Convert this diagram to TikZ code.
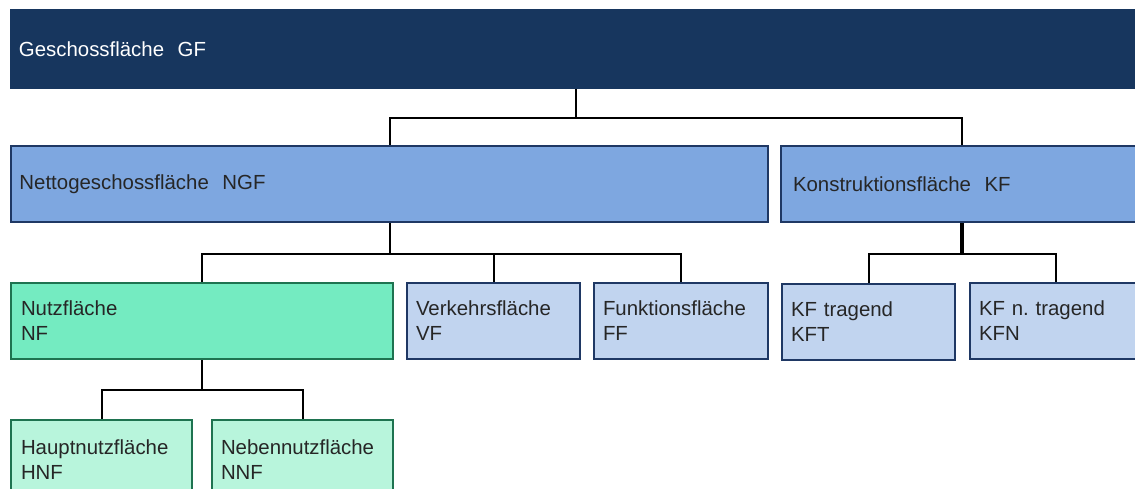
\documentclass[tikz,border=0pt]{standalone}
\usepackage{fontspec}
\setmainfont{Liberation Sans}
\frenchspacing
\definecolor{gfnavy}{RGB}{23,54,94}
\definecolor{navyline}{RGB}{31,56,100}
\definecolor{midblue}{RGB}{126,167,224}
\definecolor{paleblue}{RGB}{193,212,239}
\definecolor{mint}{RGB}{116,235,193}
\definecolor{palemint}{RGB}{184,245,220}
\definecolor{greenline}{RGB}{30,115,80}
\begin{document}
\begin{tikzpicture}[x=1pt,y=-1pt,
  box/.style={rectangle, anchor=north west, align=left, inner ysep=0pt,
    font=\fontsize{20.4}{25}\selectfont, line width=2pt, text=black!85},
  gfbox/.style={box, fill=gfnavy, draw=gfnavy, text=white},
  ngfbox/.style={box, fill=midblue, draw=navyline},
  subbox/.style={box, fill=paleblue, draw=navyline},
  nfbox/.style={box, fill=mint, draw=greenline},
  nfsub/.style={box, fill=palemint, draw=greenline},
  link/.style={draw=black, line width=2pt},
  thicklink/.style={draw=black, line width=4pt}]
\useasboundingbox (0,0) rectangle (1135,489);

% top level
\node[gfbox, minimum width=1130pt, minimum height=78pt, inner xsep=8pt, text width=1114pt] (gf) at (10,9) {Geschossfläche~~GF};

% second level
\node[ngfbox, minimum width=757pt, minimum height=76pt, inner xsep=8.5pt, text width=740pt] (ngf) at (10,145) {Nettogeschossfläche~~NGF};
\node[ngfbox, minimum width=362pt, minimum height=76pt, inner xsep=12pt, text width=338pt] (kf) at (780,145) {Konstruktionsfläche~~KF};

% third level
\node[nfbox, minimum width=382pt, minimum height=76pt, inner xsep=10pt, text width=362pt] (nf) at (10,282) {Nutzfläche\\NF};
\node[subbox, minimum width=173pt, minimum height=76pt, inner xsep=9pt, text width=155pt] (vf) at (406,282) {Verkehrsfläche\\VF};
\node[subbox, minimum width=174pt, minimum height=76pt, inner xsep=9pt, text width=156pt] (ff) at (593,282) {Funktionsfläche\\FF};
\node[subbox, minimum width=173pt, minimum height=76pt, inner xsep=9pt, text width=155pt] (kft) at (781,283) {KF tragend\\KFT};
\node[subbox, minimum width=172pt, minimum height=76pt, inner xsep=9pt, text width=154pt] (kfn) at (969,282) {KF n.\ tragend\\KFN};

% fourth level
\node[nfsub, minimum width=181pt, minimum height=80pt, inner xsep=10pt, text width=161pt] (hnf) at (10,419) {Hauptnutzfläche\\HNF};
\node[nfsub, minimum width=181pt, minimum height=80pt, inner xsep=9pt, text width=163pt] (nnf) at (211,419) {Nebennutzfläche\\NNF};

% connectors
\draw[link] (gf.south) -- ++(0,29) coordinate (j1) -| (ngf.north);
\draw[link] (j1) -| (kf.north);

\draw[link] (ngf.south) -- ++(0,31) coordinate (j2) -| (nf.north);
\draw[link] (j2) -| (vf.north);
\draw[link] (j2) -| (ff.north);

\draw[thicklink] (kf.south) -- ++(0,31) coordinate (j3);
\draw[link] (j3) -| (kft.north);
\draw[link] (j3) -| (kfn.north);

\draw[link] (nf.south) -- ++(0,30) coordinate (j4) -| (hnf.north);
\draw[link] (j4) -| (nnf.north);
\end{tikzpicture}
\end{document}
